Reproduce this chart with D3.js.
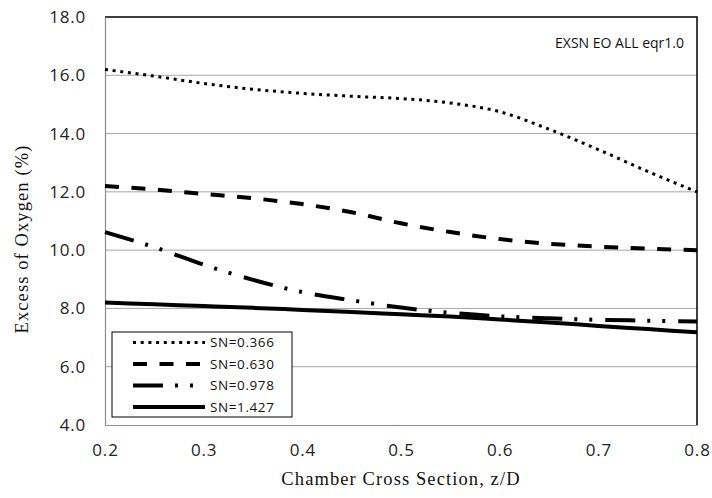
<!DOCTYPE html>
<html>
<head>
<meta charset="utf-8">
<script src="https://cdn.jsdelivr.net/npm/d3@7"></script>
<style>
  body { margin: 0; background: #fff; }
  svg { display: block; }
</style>
</head>
<body>
<div id="chart"></div>
<script>
// z/D stations
const zD = [0.2, 0.25, 0.3, 0.35, 0.4, 0.45, 0.5, 0.55, 0.6, 0.65, 0.7, 0.75, 0.8];

// excess of oxygen (%) per swirl number
const sn0366 = [16.2, 15.97, 15.72, 15.52, 15.38, 15.28, 15.2, 15.05, 14.75, 14.15, 13.45, 12.7, 12.0];
const sn0630 = [12.2, 12.08, 11.93, 11.78, 11.58, 11.3, 10.92, 10.62, 10.38, 10.22, 10.12, 10.05, 10.0];
const sn0978 = [10.62, 10.1, 9.5, 8.98, 8.56, 8.28, 8.03, 7.85, 7.73, 7.66, 7.61, 7.58, 7.55];
const sn1427 = [8.2, 8.14, 8.08, 8.02, 7.95, 7.88, 7.8, 7.72, 7.62, 7.52, 7.4, 7.29, 7.18];

const seriesNames = ['SN=0.366', 'SN=0.630', 'SN=0.978', 'SN=1.427'];
const xTicks = [0.2, 0.3, 0.4, 0.5, 0.6, 0.7, 0.8];
const yTicks = [4, 6, 8, 10, 12, 14, 16, 18];

const dashStyles = ['3,4.7', '14,12.5', '30,12,3,12,3,13', null];
const widths = [3, 4, 4, 4];

const W = 712, H = 498;
const margin = { top: 17, right: 15, bottom: 73, left: 105 };
const width = W - margin.left - margin.right;
const height = H - margin.top - margin.bottom;

const svg = d3.select('#chart')
  .append('svg')
  .attr('width', W)
  .attr('height', H);

const g = svg.append('g')
  .attr('transform', `translate(${margin.left},${margin.top})`);

const x = d3.scaleLinear().domain([0.2, 0.8]).range([0, width]);
const y = d3.scaleLinear().domain([4, 18]).range([height, 0]);

// gridlines
g.selectAll('.grid')
  .data(yTicks.slice(1, -1))
  .enter()
  .append('line')
  .attr('x1', 0)
  .attr('x2', width)
  .attr('y1', d => y(d))
  .attr('y2', d => y(d))
  .attr('stroke', '#a6a6a6')
  .attr('stroke-width', 1);

// plot area border (top/right in black)
g.append('path')
  .attr('d', `M0,${y(18)}H${width}V${height}`)
  .attr('fill', 'none')
  .attr('stroke', '#000')
  .attr('stroke-width', 1.5);

// axes
const yAxis = g.append('g')
  .call(d3.axisLeft(y).tickValues(yTicks).tickSize(0).tickPadding(19).tickFormat(d3.format('.1f')));
const xAxis = g.append('g')
  .attr('transform', `translate(0,${height})`)
  .call(d3.axisBottom(x).tickValues(xTicks).tickSize(0).tickPadding(19).tickFormat(d3.format('.1f')));

[xAxis, yAxis].forEach(ax => {
  ax.select('.domain').attr('stroke', '#8c8c8c').attr('stroke-width', 1.2);
  ax.selectAll('.tick text')
    .style('font-family', '"Open Sans", sans-serif')
    .style('font-size', '17px')
    .style('letter-spacing', '0.8px')
    .attr('fill', '#222');
});

// curves
const allSeries = [sn0366, sn0630, sn0978, sn1427];
const line = d3.line()
  .x((d, i) => x(zD[i]))
  .y(d => y(d))
  .curve(d3.curveMonotoneX);

allSeries.forEach((vals, i) => {
  g.append('path')
    .datum(vals)
    .attr('d', line)
    .attr('fill', 'none')
    .attr('stroke', '#000')
    .attr('stroke-width', widths[i])
    .attr('stroke-dasharray', dashStyles[i]);
});

// annotation
g.append('text')
  .attr('x', width - 13)
  .attr('y', 31)
  .attr('text-anchor', 'end')
  .style('font-family', '"Open Sans", sans-serif')
  .style('font-size', '14px')
  .attr('fill', '#111')
  .text('EXSN EO ALL eqr1.0');

// legend
const legend = g.append('g')
  .attr('transform', 'translate(7,315)');

legend.append('rect')
  .attr('width', 180)
  .attr('height', 85)
  .attr('fill', '#fff')
  .attr('stroke', '#000')
  .attr('stroke-width', 1);

seriesNames.forEach((name, i) => {
  const ly = 10.5 + i * 21.5;
  legend.append('line')
    .attr('x1', 21)
    .attr('x2', 93)
    .attr('y1', ly)
    .attr('y2', ly)
    .attr('stroke', '#000')
    .attr('stroke-width', widths[i])
    .attr('stroke-dasharray', dashStyles[i]);
  legend.append('text')
    .attr('x', 98)
    .attr('y', ly)
    .attr('dy', '0.35em')
    .style('font-family', '"Open Sans", sans-serif')
    .style('font-size', '13.5px')
    .style('letter-spacing', '0.6px')
    .attr('fill', '#111')
    .text(name);
});

// axis titles
svg.append('text')
  .attr('x', margin.left + width / 2)
  .attr('y', 485)
  .attr('text-anchor', 'middle')
  .style('font-family', '"Liberation Serif", serif')
  .style('font-size', '18.5px')
  .style('letter-spacing', '1.1px')
  .attr('fill', '#111')
  .text('Chamber Cross Section, z/D');

svg.append('text')
  .attr('transform', 'translate(28,239) rotate(-90)')
  .attr('text-anchor', 'middle')
  .style('font-family', '"Liberation Serif", serif')
  .style('font-size', '18.5px')
  .style('letter-spacing', '1.1px')
  .attr('fill', '#111')
  .text('Excess of Oxygen (%)');
</script>
</body>
</html>
